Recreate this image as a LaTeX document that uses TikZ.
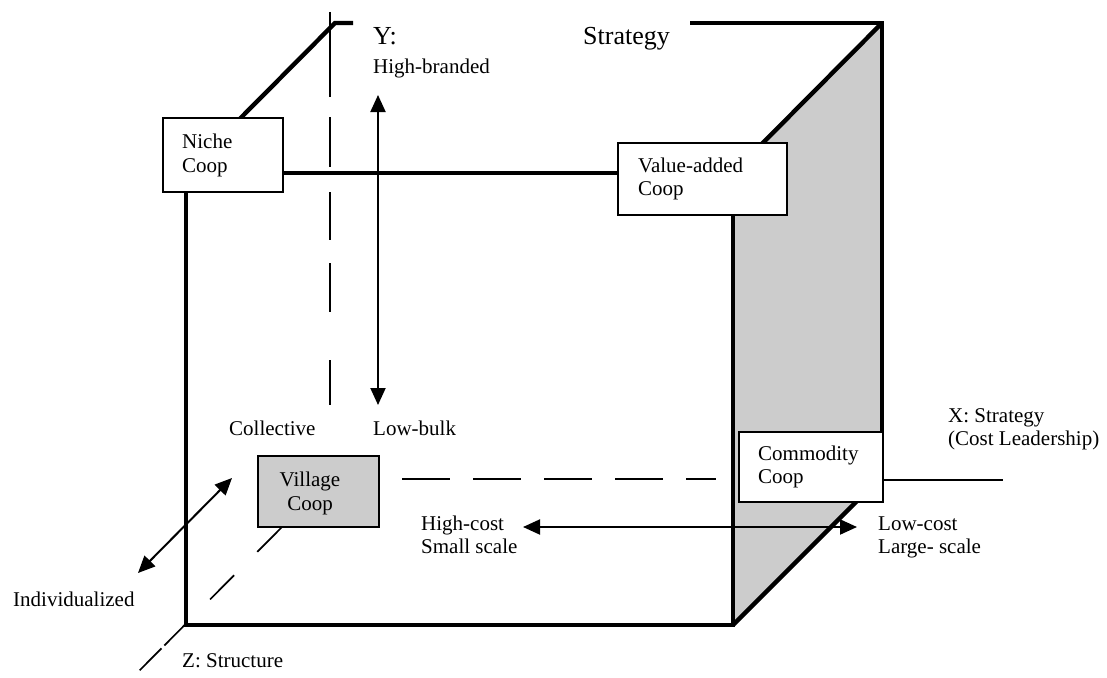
\documentclass[tikz,border=0pt]{standalone}
\usepackage{fontspec}
\setmainfont{Liberation Serif}
\usetikzlibrary{arrows.meta}
\begin{document}
\begin{tikzpicture}[x=1pt,y=-1pt,
  cubeedge/.style={line width=4.4pt, line join=miter},
  axisline/.style={line width=1.8pt},
  dashaxis/.style={line width=1.7pt},
  axisarrow/.style={line width=2pt,
    {Triangle[length=17pt,width=15pt]}-{Triangle[length=17pt,width=15pt]}},
  coopbox/.style={draw, line width=1.6pt, fill=white, inner sep=0pt,
    anchor=north west},
  lbl/.style={inner sep=0pt, anchor=base west,
    font=\fontsize{21}{24}\selectfont},
  clbl/.style={lbl, anchor=base},
  biglbl/.style={inner sep=0pt, anchor=base west,
    font=\fontsize{26}{30}\selectfont},
]
\useasboundingbox (0,0) rectangle (1107,677);

% cube corners
\coordinate (ftl) at (186,173);
\coordinate (ftr) at (733,173);
\coordinate (fbl) at (186,625);
\coordinate (fbr) at (733,625);
\coordinate (btl) at (335,23);
\coordinate (btr) at (882,23);
\coordinate (bbr) at (882,476);
\coordinate (stubend) at (353,23);
\coordinate (topstart) at (690,23);

% shaded right face
\fill[gray!40] (ftr) -- (btr) -- (bbr) -- (fbr) -- cycle;

% visible cube edges
\draw[cubeedge] (ftl) -- (fbl) -- (fbr) -- (ftr) -- cycle;
\draw[cubeedge] (ftl) -- (btl) -- (stubend);
\draw[cubeedge] (topstart) -- (btr) -- (bbr);
\draw[cubeedge] (btr) -- (ftr);
\draw[cubeedge] (fbr) -- (bbr);

% axis ends
\coordinate (ytop) at (330,12);
\coordinate (ybot) at (330,405);
\coordinate (xdashstart) at (402,479);
\coordinate (xdashend) at (716,479);
\coordinate (xsolidstart) at (882,480);
\coordinate (xsolidend) at (1003,480);
\coordinate (zstart) at (282,527);
\coordinate (zend) at (138,672);

% dashed axes
\draw[dashaxis, dash pattern=on 85pt off 20pt on 50pt off 25pt on 48pt off 23pt on 49pt off 48pt on 45pt off 20pt]
  (ytop) -- (ybot);
\draw[dashaxis, dash pattern=on 48pt off 23pt] (xdashstart) -- (xdashend);
\draw[dashaxis, dash pattern=on 35pt off 33pt on 34pt off 33pt on 32pt off 4pt on 31pt off 10pt]
  (zstart) -- (zend);
\draw[axisline] (xsolidstart) -- (xsolidend);

% double-headed range arrows
\coordinate (yhi) at (378,95);
\coordinate (ylo) at (378,405);
\coordinate (xhi) at (523,527);
\coordinate (xlo) at (857,527);
\coordinate (zind) at (138,573);
\coordinate (zcol) at (232,478);
\draw[axisarrow] (yhi) -- (ylo);
\draw[axisarrow] (xhi) -- (xlo);
\draw[axisarrow] (zind) -- (zcol);

% cooperative types
\node[coopbox, minimum width=120pt, minimum height=74pt] (niche) at (162,117) {};
\node[coopbox, minimum width=169pt, minimum height=72pt] (value) at (617,142) {};
\node[coopbox, fill=gray!40, minimum width=121pt, minimum height=71pt] (village) at (257,455) {};
\node[coopbox, minimum width=144pt, minimum height=70pt] (commodity) at (738,431) {};

\node[lbl] (nicheA) at (182,148) {Niche};
\node[lbl] (nicheB) at (182,172) {Coop};
\node[lbl] (valueA) at (638,172) {Value-added};
\node[lbl] (valueB) at (638,195) {Coop};
\node[clbl] (villageA) at (310,486) {Village};
\node[clbl] (villageB) at (310,510) {Coop};
\node[lbl] (commA) at (758,460) {Commodity};
\node[lbl] (commB) at (758,483) {Coop};

% axis labels
\node[biglbl] (ylabel) at (373,45) {Y:};
\node[biglbl] (strat) at (583,45) {Strategy};
\node[lbl] (highb) at (373,74) {High-branded};
\node[lbl] (collective) at (229,435) {Collective};
\node[lbl] (lowbulk) at (373,435) {Low-bulk};
\node[lbl] (xlabelA) at (948,422) {X: Strategy};
\node[lbl] (xlabelB) at (948,445) {(Cost Leadership)};
\node[lbl] (highcA) at (421,530) {High-cost};
\node[lbl] (highcB) at (421,553) {Small scale};
\node[lbl] (lowcA) at (878,530) {Low-cost};
\node[lbl] (lowcB) at (878,553) {Large- scale};
\node[lbl] (indiv) at (13,606) {Individualized};
\node[lbl] (zlabel) at (182,667) {Z: Structure};
\end{tikzpicture}
\end{document}
